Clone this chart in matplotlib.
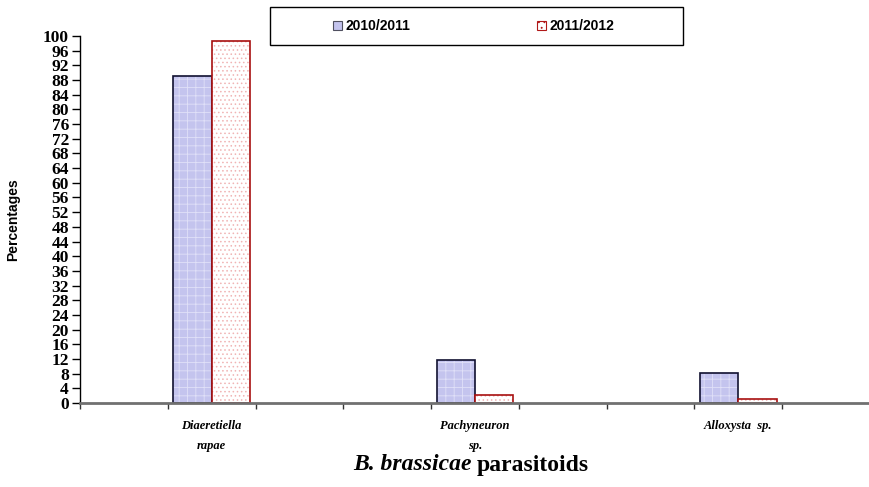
import matplotlib
matplotlib.use("Agg")
import matplotlib.pyplot as plt
from matplotlib.patches import Patch, Rectangle

# data
species = ["Diaeretiella\nrapae", "Pachyneuron\nsp.", "Alloxysta  sp."]
slots = [1, 4, 7]           # category slots on a 9-slot axis
season1 = [89.2, 11.8, 8.2]   # 2010/2011
season2 = [98.6, 2.2, 1.1]    # 2011/2012
labels = ["2010/2011", "2011/2012"]
yticks = list(range(0, 101, 4))

plt.rcParams["hatch.linewidth"] = 0.6

fig = plt.figure(figsize=(8.7, 4.87), dpi=100)
ax = fig.add_axes([80 / 870, 1 - 403 / 487, 1 - 80 / 870, (403 - 36) / 487])

w = 0.435
x1 = [s - w / 2 for s in slots]
x2 = [s + w / 2 for s in slots]

# fills with hatch, then outlines on top
ax.bar(x1, season1, width=w, color="#c4c4ee", edgecolor="#e0e0f8", hatch="++", linewidth=0)
ax.bar(x1, season1, width=w, fill=False, edgecolor="#101030", linewidth=1.2)
ax.bar(x2, season2, width=w, color="white", edgecolor="#f0b4b4", hatch="....", linewidth=0)
ax.bar(x2, season2, width=w, fill=False, edgecolor="#a81010", linewidth=1.2)

ax.set_xlim(-0.5, 8.43)
ax.set_ylim(0, 100)
ax.set_yticks(yticks)
ax.set_yticklabels([str(t) for t in yticks], fontfamily="Liberation Serif",
                   fontweight="bold", fontsize=12.5)
ax.set_xticks([k - 0.5 for k in range(10)])
ax.set_xticklabels([])
ax.set_xticks(slots, minor=True)
ax.set_xticklabels(species, minor=True, fontfamily="Liberation Serif",
                   fontweight="bold", style="italic", fontsize=9, linespacing=1.9)
ax.tick_params(axis="x", which="minor", length=0, pad=12)
ax.tick_params(axis="x", which="major", length=4, width=1, color="#333333", direction="out")
ax.tick_params(axis="y", length=6, width=1, pad=2, direction="out")

for side in ["top", "right"]:
    ax.spines[side].set_visible(False)
ax.spines["left"].set_linewidth(1.0)
ax.spines["bottom"].set_color("#707070")
ax.spines["bottom"].set_linewidth(2)

ax.set_ylabel("Percentages", fontfamily="Liberation Sans", fontweight="bold", fontsize=10)
ax.yaxis.set_label_coords((20 - 80) / 790, 0.5)

# x axis title with italic part
fig.text(472 / 870, 22 / 487, "B. brassicae", ha="right", va="center",
         fontfamily="Liberation Serif", fontweight="bold", style="italic", fontsize=17)
fig.text(477 / 870, 22 / 487, "parasitoids", ha="left", va="center",
         fontfamily="Liberation Serif", fontweight="bold", fontsize=17)

# legend box
fig.patches.append(Rectangle((270 / 870, 1 - 45 / 487), 413 / 870, 38 / 487,
                             transform=fig.transFigure, fill=False,
                             edgecolor="black", linewidth=1))
handles = [Patch(facecolor="#c4c4ee", edgecolor="#505060", linewidth=0.8),
           Patch(facecolor="white", edgecolor="#b01818", hatch="...", linewidth=0.8)]
fig.legend(handles, labels, loc="center", bbox_to_anchor=(474 / 870, 1 - 26 / 487),
           ncol=2, frameon=False, columnspacing=9.1,
           handlelength=0.6, handleheight=0.6, handletextpad=0.3,
           prop={"family": "Liberation Sans", "weight": "bold", "size": 10},
           borderaxespad=0, borderpad=0)

fig.savefig("out.png", dpi=100)
